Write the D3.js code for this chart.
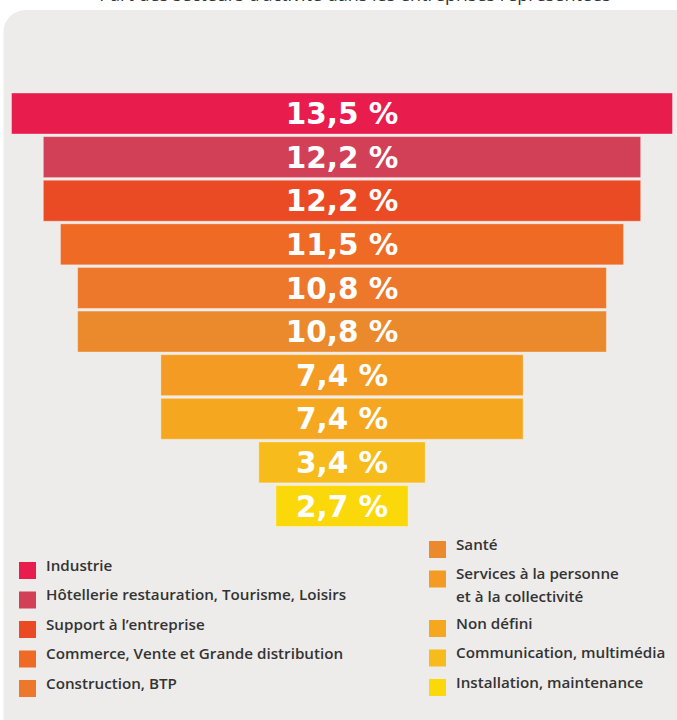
<!DOCTYPE html>
<html>
<head>
<meta charset="utf-8">
<script src="https://cdn.jsdelivr.net/npm/d3@7"></script>
<style>
  html, body { margin: 0; padding: 0; background: #fff; }
  svg { display: block; }
</style>
</head>
<body>
<svg id="chart" width="677" height="720"></svg>
<script>
// secteurs, dans l'ordre de l'entonnoir
const secteurs = [
    "Industrie",
    "Hôtellerie restauration, Tourisme, Loisirs",
    "Support à l’entreprise",
    "Commerce, Vente et Grande distribution",
    "Construction, BTP",
    "Santé",
    "Services à la personne|et à la collectivité",
    "Non défini",
    "Communication, multimédia",
    "Installation, maintenance"
];
const parts = [13.5, 12.2, 12.2, 11.5, 10.8, 10.8, 7.4, 7.4, 3.4, 2.7];
const couleurs = [
    "#e81c4d", "#d24057", "#eb4b24", "#ee6a25", "#ed772b",
    "#ea8a2c", "#f39b22", "#f5a81f", "#f7bb1b", "#fbd80a"
];
const titre = "Part des secteurs d’activité dans les entreprises représentées";

const svg = d3.select('#chart');
const fr = d3.formatLocale({ decimal: ",", thousands: " ", grouping: [3], currency: ["", " €"] });
const fmt = v => fr.format(".1f")(v) + " %";

const data = secteurs.map((s, i) => ({ nom: s, valeur: parts[i], couleur: couleurs[i] }));

// titre coupé en haut (comme sur l'original)
svg.append('text')
    .attr('x', 355)
    .attr('y', 1)
    .attr('text-anchor', 'middle')
    .style('font-family', '"Open Sans", sans-serif')
    .style('font-size', '18px')
    .style('fill', '#333')
    .text(titre);

// panneau gris
svg.append('rect')
    .attr('x', 3.5)
    .attr('y', 10)
    .attr('width', 700)
    .attr('height', 740)
    .attr('rx', 22)
    .attr('fill', '#edecea');

// Entonnoir
const cx = 342;
const x = d3.scaleLinear().domain([0, 13.5]).range([0, 661]);
const y = d3.scaleBand()
    .domain(data.map(d => d.nom))
    .range([93, 526.5])
    .paddingInner(0.06);

const barres = svg.append('g').attr('class', 'entonnoir');

barres.selectAll('.barre')
    .data(data)
    .enter()
    .append('rect')
    .attr('class', 'barre')
    .attr('x', d => cx - x(d.valeur) / 2)
    .attr('y', d => y(d.nom))
    .attr('width', d => x(d.valeur))
    .attr('height', y.bandwidth())
    .attr('fill', d => d.couleur)
    .attr('stroke', 'rgba(255,255,255,0.35)')
    .attr('stroke-width', 1);

barres.selectAll('.valeur')
    .data(data)
    .enter()
    .append('text')
    .attr('class', 'valeur')
    .attr('x', cx)
    .attr('y', d => y(d.nom) + y.bandwidth() / 2)
    .attr('dy', '0.36em')
    .attr('text-anchor', 'middle')
    .style('font-family', '"DejaVu Sans", Verdana, sans-serif')
    .style('font-weight', 'bold')
    .style('font-size', '29.5px')
    .style('fill', '#fff')
    .text(d => fmt(d.valeur));

// Légende
function legende(items, x0, y0) {
    let yy = y0;
    items.forEach(d => {
        const lignes = d.nom.split('|');
        const g = svg.append('g').attr('class', 'legende');
        g.append('rect')
            .attr('x', x0)
            .attr('y', yy - 8.5)
            .attr('width', 17)
            .attr('height', 17)
            .attr('fill', d.couleur);
        g.append('text')
            .attr('x', x0 + 27)
            .attr('y', yy)
            .attr('dy', '0.37em')
            .style('font-family', '"Open Sans", sans-serif')
            .style('font-weight', 600)
            .style('font-size', '15.2px')
            .style('fill', '#333')
            .selectAll('tspan')
            .data(lignes)
            .enter()
            .append('tspan')
            .attr('x', x0 + 27)
            .attr('dy', (l, i) => i === 0 ? 0 : 23)
            .text(l => l);
        yy += 29.5 + 20 * (lignes.length - 1);
    });
}

legende(data.slice(0, 5), 19, 570.5);
legende(data.slice(5), 429, 549.5);
</script>
</body>
</html>
